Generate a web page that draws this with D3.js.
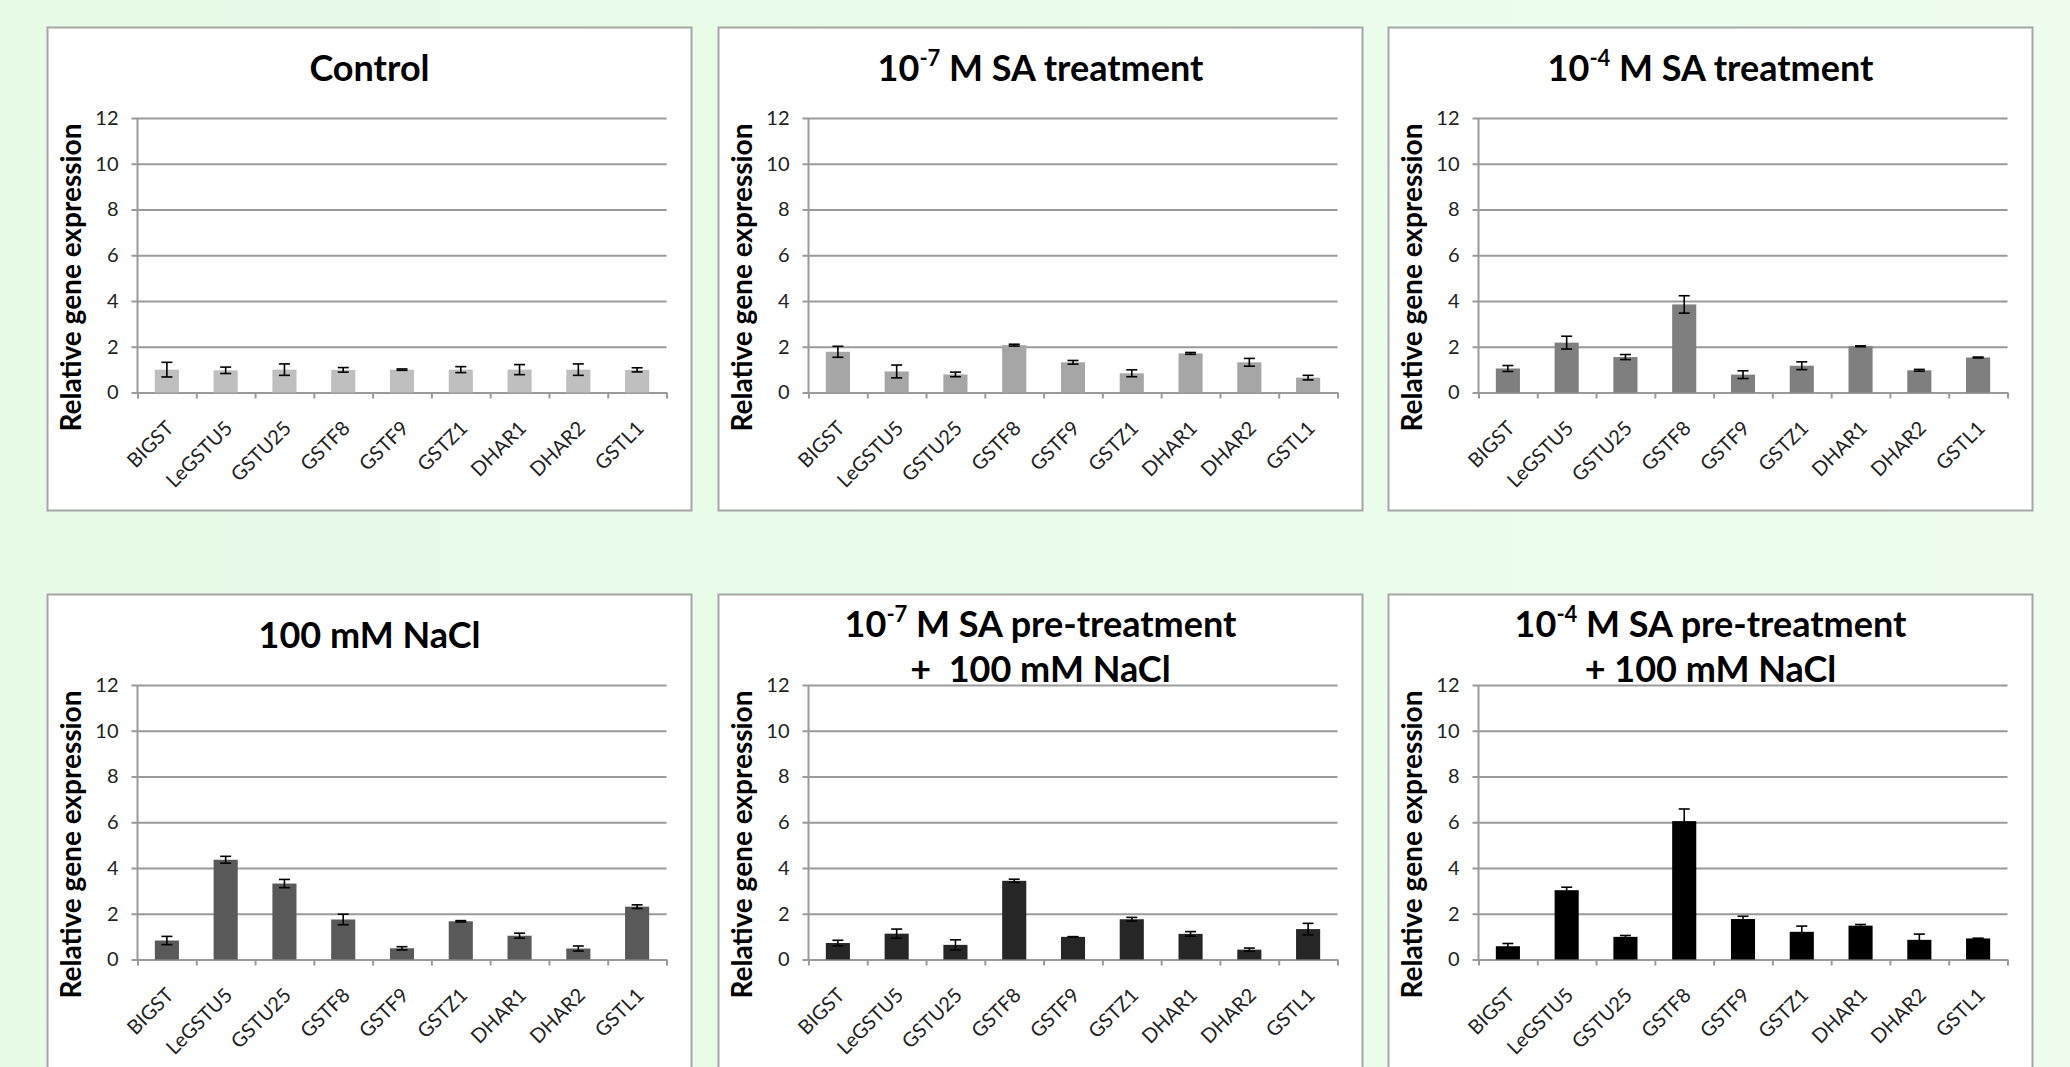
<!DOCTYPE html>
<html>
<head>
<meta charset="utf-8">
<style>
  html, body { margin: 0; padding: 0; overflow: hidden; }
  svg { display: block; font-family: Lato, "Open Sans", sans-serif; }
  .title { font-weight: bold; font-size: 36px; fill: #000; white-space: pre; }
  .ylab { font-weight: bold; font-size: 28px; fill: #000; }
  .tick text { font-size: 20px; fill: #222; font-family: Lato, sans-serif; }
</style>
</head>
<body>
<svg width="2070" height="1067"></svg>
<script src="https://d3js.org/d3.v7.min.js"></script>
<script>
// genes on the x axis, y ticks
const genes = ["BIGST", "LeGSTU5", "GSTU25", "GSTF8", "GSTF9", "GSTZ1", "DHAR1", "DHAR2", "GSTL1"];
const yTicks = [0, 2, 4, 6, 8, 10, 12];

// means and error bars
const controlMean = [1.0, 0.97, 1.0, 0.99, 1.0, 1.0, 1.0, 1.0, 0.99];
const controlErr  = [0.32, 0.14, 0.25, 0.1, 0.03, 0.13, 0.22, 0.25, 0.09];
const sa7Mean = [1.78, 0.92, 0.79, 2.07, 1.32, 0.84, 1.71, 1.32, 0.65];
const sa7Err  = [0.24, 0.28, 0.1, 0.04, 0.08, 0.15, 0.04, 0.17, 0.1];
const sa4Mean = [1.05, 2.18, 1.55, 3.85, 0.78, 1.17, 2.02, 0.97, 1.53];
const sa4Err  = [0.13, 0.28, 0.11, 0.38, 0.17, 0.17, 0.02, 0.04, 0.02];
const naclMean = [0.83, 4.36, 3.32, 1.75, 0.49, 1.67, 1.04, 0.48, 2.31];
const naclErr  = [0.18, 0.15, 0.18, 0.23, 0.07, 0.03, 0.11, 0.11, 0.08];
const sa7NaclMean = [0.72, 1.13, 0.64, 3.44, 0.99, 1.76, 1.12, 0.43, 1.33];
const sa7NaclErr  = [0.12, 0.2, 0.22, 0.07, 0.01, 0.08, 0.1, 0.07, 0.25];
const sa4NaclMean = [0.58, 3.03, 0.99, 6.05, 1.77, 1.21, 1.48, 0.86, 0.92];
const sa4NaclErr  = [0.12, 0.13, 0.06, 0.53, 0.12, 0.25, 0.05, 0.25, 0.01];

const panelTitles = [
  ["Control"],
  ["10^{-7} M SA treatment"],
  ["10^{-4} M SA treatment"],
  ["100 mM NaCl"],
  ["10^{-7} M SA pre-treatment", "+  100 mM NaCl"],
  ["10^{-4} M SA pre-treatment", "+ 100 mM NaCl"]
];
const means = [controlMean, sa7Mean, sa4Mean, naclMean, sa7NaclMean, sa4NaclMean];
const errs = [controlErr, sa7Err, sa4Err, naclErr, sa7NaclErr, sa4NaclErr];
const barColors = ["#bfbfbf", "#a6a6a6", "#7f7f7f", "#595959", "#262626", "#000000"];

var svg = d3.select("svg");
var W = 2070, H = 1067;

var grad = svg.append("defs").append("linearGradient").attr("id", "bg")
  .attr("x1", 0).attr("x2", 1).attr("y1", 0).attr("y2", 0);
grad.append("stop").attr("offset", 0).attr("stop-color", "#e6fae6");
grad.append("stop").attr("offset", 1).attr("stop-color", "#eefdee");
svg.append("rect").attr("width", W).attr("height", H).attr("fill", "url(#bg)");

var panelLeft = [47.5, 718.5, 1388.5],
    panelTop = [27.5, 594.5],
    panelW = 644,
    panelH = 483,
    margin = {left: 90, right: 25, top: 90.5, bottom: 118};

var plotW = panelW - margin.left - margin.right,
    plotH = 365 - margin.top;

var x = d3.scaleBand().domain(genes).range([0, plotW]);
var xEdge = d3.scaleLinear().domain([0, genes.length]).range([0, plotW]);
var y = d3.scaleLinear().domain([0, 12]).range([plotH, 0]);

means.forEach(function (m, p) {
  var px = panelLeft[p % 3], py = panelTop[Math.floor(p / 3)];
  var panel = svg.append("g").attr("transform", "translate(" + px + "," + py + ")");

  panel.append("rect")
    .attr("width", panelW).attr("height", panelH)
    .attr("fill", "#fff").attr("stroke", "#a6a6a6").attr("stroke-width", 2);

  // title, with ^{..} as superscript
  var lines = panelTitles[p];
  var base = lines.length == 1 ? [53.5] : [42.5, 87.5];
  lines.forEach(function (line, li) {
    var t = panel.append("text").attr("class", "title")
      .attr("x", panelW / 2).attr("y", base[li]).attr("text-anchor", "middle");
    var parts = line.split(/\^\{(.*?)\}/);
    parts.forEach(function (s, i) {
      if (!s) return;
      if (i % 2 == 1) {
        t.append("tspan").attr("font-size", "22px").attr("dy", -15).text(s);
      } else {
        var ts = t.append("tspan").text(s);
        if (i > 0) ts.attr("dy", 15);
      }
    });
  });

  var g = panel.append("g").attr("transform", "translate(" + margin.left + "," + margin.top + ")");

  // gridlines + y labels
  var ya = g.append("g")
    .call(d3.axisLeft(y).tickValues(yTicks).tickSizeInner(-plotW).tickSizeOuter(0).tickPadding(19));
  ya.select(".domain").remove();
  ya.selectAll(".tick line").attr("x1", -6).attr("stroke", "#9a9a9a").attr("stroke-width", 2);

  g.append("line").attr("x1", 0).attr("x2", 0).attr("y1", 0).attr("y2", plotH)
    .attr("stroke", "#9a9a9a").attr("stroke-width", 2);

  // x axis, ticks between categories
  var xa = g.append("g").attr("transform", "translate(0," + plotH + ")")
    .call(d3.axisBottom(xEdge).ticks(genes.length).tickFormat("").tickSizeInner(6).tickSizeOuter(0));
  xa.select(".domain").attr("stroke", "#9a9a9a").attr("stroke-width", 2);
  xa.selectAll(".tick line").attr("stroke", "#9a9a9a").attr("stroke-width", 2);

  var xl = g.append("g").attr("transform", "translate(0," + plotH + ")")
    .call(d3.axisBottom(x).tickSize(0));
  xl.select(".domain").remove();
  xl.selectAll("text")
    .attr("y", 0).attr("dy", null).attr("text-anchor", "end")
    .attr("transform", "translate(8,37) rotate(-45)");

  // bars
  var bw = x.bandwidth() * 0.41;
  g.selectAll(".bar").data(genes).enter().append("rect")
    .attr("x", function (d) { return x(d) + (x.bandwidth() - bw) / 2; })
    .attr("y", function (d, i) { return y(m[i]); })
    .attr("width", bw)
    .attr("height", function (d, i) { return plotH - y(m[i]); })
    .attr("fill", barColors[p]);

  // error bars
  var e = errs[p];
  var eb = g.selectAll(".err").data(genes).enter().append("g")
    .attr("transform", function (d) { return "translate(" + (x(d) + x.bandwidth() / 2) + ",0)"; })
    .attr("stroke", "#000").attr("stroke-width", 1.6);
  eb.append("line")
    .attr("y1", function (d, i) { return y(m[i] - e[i]); })
    .attr("y2", function (d, i) { return y(m[i] + e[i]); });
  eb.append("line").attr("x1", -5.5).attr("x2", 5.5)
    .attr("y1", function (d, i) { return y(m[i] + e[i]); })
    .attr("y2", function (d, i) { return y(m[i] + e[i]); });
  eb.append("line").attr("x1", -5.5).attr("x2", 5.5)
    .attr("y1", function (d, i) { return y(m[i] - e[i]); })
    .attr("y2", function (d, i) { return y(m[i] - e[i]); });

  // y axis title
  panel.append("text").attr("class", "ylab")
    .attr("transform", "translate(33.5,250) rotate(-90)")
    .attr("text-anchor", "middle")
    .text("Relative gene expression");
});
</script>
</body>
</html>
